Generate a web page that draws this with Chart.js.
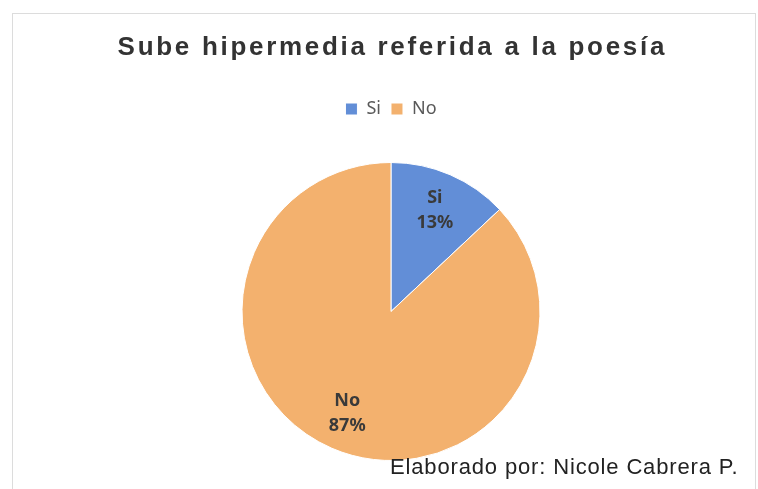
<!DOCTYPE html>
<html>
<head>
<meta charset="utf-8">
<script src="https://cdn.jsdelivr.net/npm/chart.js@4/dist/chart.umd.min.js"></script>
<style>
  html, body { margin: 0; padding: 0; background: #fff; }
  #wrap { position: relative; width: 758px; height: 489px; }
  #frame {
    position: absolute; left: 12px; top: 13px; width: 744px; height: 480px;
    border: 1px solid #dcdcdc; box-sizing: border-box;
  }
  #credit {
    position: absolute; left: 390px; top: 454px;
    font-family: 'Liberation Sans', Arial, sans-serif; font-size: 22px; color: #222;
    letter-spacing: 0.85px;
  }
</style>
</head>
<body>
<div id="wrap">
  <div id="frame"></div>
  <canvas id="chart" width="758" height="489"></canvas>
  <div id="credit">Elaborado por: Nicole Cabrera P.</div>
</div>
<script>
const categories = ['Si', 'No'];
const percentages = [13, 87];
const sliceColors = ['#628ed7', '#f3b16e'];

const TITLE_TEXT = 'Sube hipermedia referida a la poesía';
const LABEL_FONT = 'bold 18px "Noto Sans", sans-serif';

// extra room under the legend, like the office chart
const legendGap = {
  id: 'legendGap',
  beforeInit(chart) {
    const fit = chart.legend.fit;
    chart.legend.fit = function () {
      fit.bind(chart.legend)();
      this.height += 34;
    };
  },
};

// title redrawn with the wide letter spacing of the original
const spacedTitle = {
  id: 'spacedTitle',
  afterDraw(chart) {
    const t = chart.titleBlock;
    const ctx = chart.ctx;
    const spacing = 2.7;
    ctx.save();
    ctx.font = 'bold 26px "Liberation Sans", Arial, sans-serif';
    ctx.letterSpacing = spacing + 'px';
    ctx.fillStyle = '#333333';
    ctx.textAlign = 'center';
    ctx.textBaseline = 'middle';
    ctx.fillText(TITLE_TEXT, (t.left + t.right) / 2 + spacing / 2, t.top + 48);
    ctx.restore();
  },
};

// category + percent drawn inside each slice
const sliceLabels = {
  id: 'sliceLabels',
  afterDatasetsDraw(chart) {
    const ctx = chart.ctx;
    const meta = chart.getDatasetMeta(0);
    meta.data.forEach((arc, i) => {
      const mid = (arc.startAngle + arc.endAngle) / 2;
      const r = arc.outerRadius * 0.74;
      const x = arc.x + Math.cos(mid) * r;
      const y = arc.y + Math.sin(mid) * r;
      ctx.save();
      ctx.font = LABEL_FONT;
      ctx.fillStyle = '#3a3a3a';
      ctx.textAlign = 'center';
      ctx.textBaseline = 'middle';
      ctx.fillText(categories[i], x, y - 12);
      ctx.fillText(percentages[i] + '%', x, y + 13);
      ctx.restore();
    });
  },
};

new Chart(document.getElementById('chart'), {
  type: 'pie',
  data: {
    labels: categories,
    datasets: [{
      data: percentages,
      backgroundColor: sliceColors,
      borderColor: '#ffffff',
      borderWidth: 1,
    }],
  },
  options: {
    responsive: false,
    animation: false,
    layout: { padding: { left: 24, bottom: 28 } },
    plugins: {
      title: {
        display: true,
        text: TITLE_TEXT,
        color: 'rgba(0,0,0,0)',
        font: { family: "'Liberation Sans', Arial, sans-serif", size: 25, weight: 'bold' },
        padding: { top: 34, bottom: 26 },
      },
      legend: {
        position: 'top',
        labels: {
          color: '#595959',
          boxWidth: 12,
          boxHeight: 12,
          padding: 10,
          font: { family: "'Noto Sans', sans-serif", size: 18 },
        },
      },
      tooltip: { enabled: false },
    },
  },
  plugins: [legendGap, spacedTitle, sliceLabels],
});
</script>
</body>
</html>
